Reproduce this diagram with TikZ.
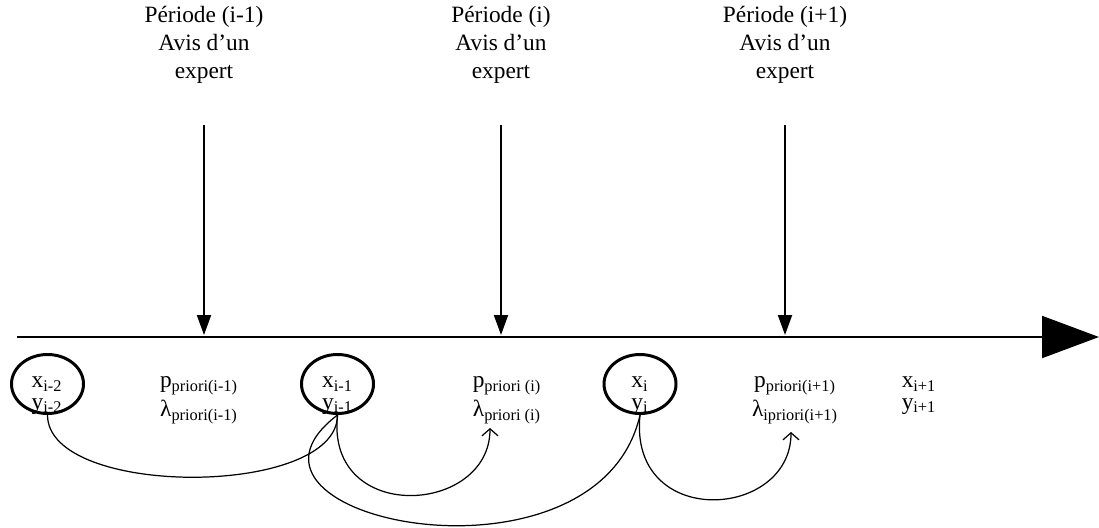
\documentclass[tikz,border=0pt]{standalone}
\usepackage{fontspec}
\setmainfont{Liberation Serif}
\usetikzlibrary{arrows.meta,shapes.geometric}

\tikzset{
    titre/.style={align=center, inner sep=0pt, anchor=north, font=\fontsize{13.3}{15.9}\selectfont},
    etiq/.style={align=center, inner sep=0pt, anchor=north, font=\fontsize{13.3}{12.2}\selectfont},
    cercle/.style={ellipse, draw, line width=1.7pt, minimum width=1.44cm, minimum height=1.18cm, inner sep=0pt},
    fleche/.style={line width=1.1pt, -{Triangle[length=0.4cm,width=0.28cm]}},
    lien/.style={line width=0.7pt},
    lienfl/.style={line width=0.7pt, -{Straight Barb[length=0.14cm,width=0.32cm]}}
}

\begin{document}
\begin{tikzpicture}
    \useasboundingbox (0,0) rectangle (21.98,-10.54);
    % les trois periodes
    \path node[titre] (hA) at (4.08,-0.12) {Période (i-1)\\Avis d’un\\expert}
        node[titre] (hB) at (10.02,-0.12) {Période (i)\\Avis d’un\\expert}
        node[titre] (hC) at (15.7,-0.12) {Période (i+1)\\Avis d’un\\expert};
    \coordinate (debut) at (0.34,-6.74);
    \coordinate (fin) at (21.98,-6.74);
    \coordinate (aA) at (4.08,-6.7);
    \coordinate (aB) at (10.02,-6.7);
    \coordinate (aC) at (15.7,-6.7);
    \draw[line width=1.1pt, -{Triangle[length=1.14cm,width=0.84cm]}] (debut) -- (fin);
    \draw[fleche, shorten <=0.82cm] (hA) -- (aA);
    \draw[fleche, shorten <=0.82cm] (hB) -- (aB);
    \draw[fleche, shorten <=0.82cm] (hC) -- (aC);
    % observations et parametres
    \path node[cercle] (e1) at (0.95,-7.68) {}
        node[cercle] (e2) at (6.75,-7.68) {}
        node[cercle] (e3) at (12.8,-7.68) {};
    \path node[etiq] (v1) at (0.94,-7.53) {x\textsubscript{i-2}\\y\textsubscript{i-2}}
        node[etiq] (v2) at (6.75,-7.53) {x\textsubscript{i-1}\\y\textsubscript{i-1}}
        node[etiq] (v3) at (12.8,-7.53) {x\textsubscript{i}\\y\textsubscript{i}}
        node[etiq] (v4) at (18.38,-7.53) {x\textsubscript{i+1}\\y\textsubscript{i+1}}
        node[etiq] (pl1) at (3.98,-7.53) {p\textsubscript{priori(i-1)}\\[1.7pt]λ\textsubscript{priori(i-1)}}
        node[etiq] (pl2) at (10.14,-7.53) {p\textsubscript{priori (i)}\\[1.7pt]λ\textsubscript{priori (i)}}
        node[etiq] (pl3) at (15.9,-7.53) {p\textsubscript{priori(i+1)}\\[1.7pt]λ\textsubscript{ipriori(i+1)}};
    \coordinate (pB) at (9.8,-8.56);
    \coordinate (pC) at (15.82,-8.64);
    \draw[lien] (e1.south) .. controls +(0,-1.66) and +(0,-1.66) .. (e2.south);
    \draw[lienfl] (e2.south) .. controls +(-0.24,-2.2) and +(0,-1.74) .. (pB);
    \draw[lien] (e2.south) .. controls +(-2.76,-2.1) and +(-0.84,-3.7) .. (e3.south);
    \draw[lienfl] (e3.south) .. controls +(-0.24,-2.3) and +(0,-1.76) .. (pC);
\end{tikzpicture}
\end{document}
